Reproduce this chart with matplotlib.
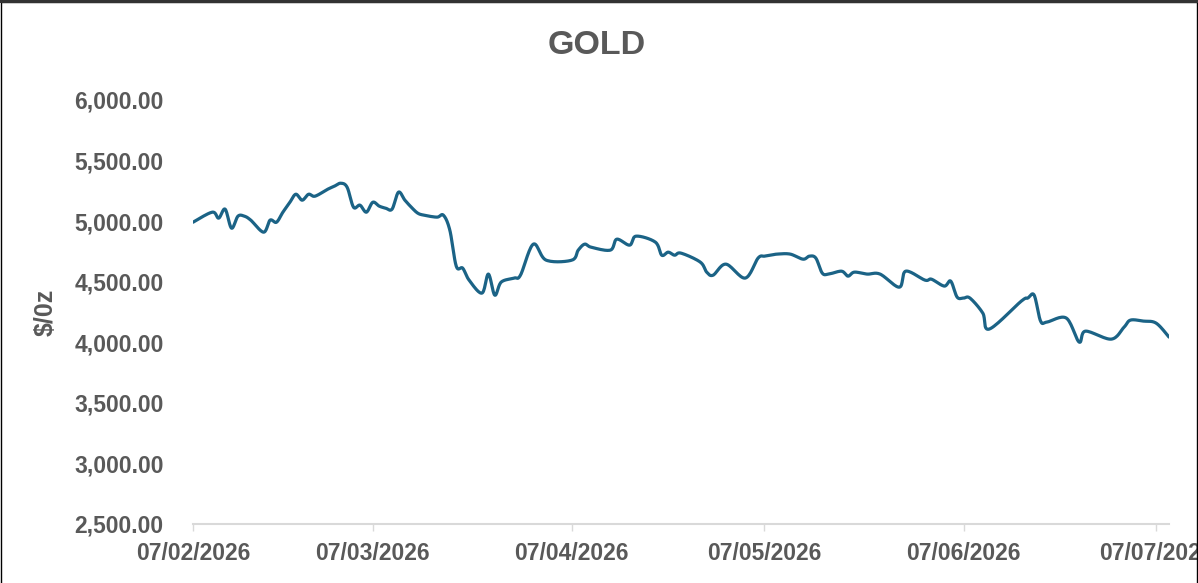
import numpy as np
import matplotlib
matplotlib.use('Agg')
import matplotlib.pyplot as plt
import matplotlib.dates as mdates
from matplotlib.patches import Rectangle

# Gold price readings, $/oz
dates = ['2026-02-07', '2026-02-10', '2026-02-11', '2026-02-12', '2026-02-13', '2026-02-14',
         '2026-02-15', '2026-02-16', '2026-02-18', '2026-02-19', '2026-02-20', '2026-02-21',
         '2026-02-22', '2026-02-23', '2026-02-24', '2026-02-25', '2026-02-26', '2026-02-28',
         '2026-03-01', '2026-03-02', '2026-03-03', '2026-03-04', '2026-03-05', '2026-03-06',
         '2026-03-07', '2026-03-08', '2026-03-09', '2026-03-10', '2026-03-11', '2026-03-12',
         '2026-03-13', '2026-03-14', '2026-03-15', '2026-03-17', '2026-03-18', '2026-03-19',
         '2026-03-20', '2026-03-21', '2026-03-22', '2026-03-24', '2026-03-25', '2026-03-26',
         '2026-03-27', '2026-03-29', '2026-03-30', '2026-04-01', '2026-04-03', '2026-04-07',
         '2026-04-08', '2026-04-09', '2026-04-10', '2026-04-13', '2026-04-14', '2026-04-16',
         '2026-04-17', '2026-04-20', '2026-04-21', '2026-04-22', '2026-04-23', '2026-04-24',
         '2026-04-27', '2026-04-28', '2026-04-29', '2026-05-01', '2026-05-04', '2026-05-06',
         '2026-05-07', '2026-05-08', '2026-05-09', '2026-05-11', '2026-05-13', '2026-05-14',
         '2026-05-15', '2026-05-16', '2026-05-17', '2026-05-19', '2026-05-20', '2026-05-21',
         '2026-05-23', '2026-05-25', '2026-05-28', '2026-05-29', '2026-06-01', '2026-06-02',
         '2026-06-04', '2026-06-05', '2026-06-06', '2026-06-07', '2026-06-08', '2026-06-10',
         '2026-06-11', '2026-06-16', '2026-06-17', '2026-06-18', '2026-06-19', '2026-06-20',
         '2026-06-23', '2026-06-25', '2026-06-26', '2026-06-30', '2026-07-02', '2026-07-03',
         '2026-07-05', '2026-07-07', '2026-07-09']
prices = [4991, 5074, 5025, 5099, 4942, 5041,
          5041, 5008, 4909, 5008, 4991, 5074,
          5148, 5222, 5173, 5222, 5206, 5264,
          5288, 5313, 5280, 5115, 5132, 5074,
          5156, 5124, 5107, 5099, 5239, 5173,
          5115, 5066, 5049, 5033, 5049, 4925,
          4628, 4612, 4513, 4406, 4563, 4389,
          4497, 4530, 4554, 4810, 4678, 4678,
          4761, 4810, 4785, 4761, 4851, 4802,
          4876, 4827, 4719, 4744, 4719, 4736,
          4662, 4579, 4554, 4645, 4530, 4695,
          4711, 4719, 4728, 4728, 4686, 4711,
          4695, 4571, 4563, 4587, 4546, 4579,
          4563, 4563, 4455, 4587, 4513, 4521,
          4464, 4505, 4373, 4365, 4365, 4241,
          4109, 4340, 4365, 4389, 4175, 4167,
          4200, 4002, 4092, 4026, 4125, 4183,
          4175, 4158, 4043]
tick_dates = ['2026-02-07', '2026-03-07', '2026-04-07', '2026-05-07', '2026-06-07', '2026-07-07']
y_ticks = [2500, 3000, 3500, 4000, 4500, 5000, 5500, 6000]

line_col = '#1b6386'
text_col = '#595959'
axis_col = '#d9d9d9'

plt.rcParams['font.family'] = ['Liberation Sans', 'DejaVu Sans']


# Catmull-Rom smoothing, like the smoothed line option of a spreadsheet chart
def smooth(x, y, n=16):
    px = np.concatenate([[x[0]], x, [x[-1]]])
    py = np.concatenate([[y[0]], y, [y[-1]]])
    t = np.linspace(0, 1, n, endpoint=False)
    xs, ys = [], []
    for i in range(1, len(px) - 2):
        for p, out in ((px, xs), (py, ys)):
            p0, p1, p2, p3 = p[i - 1], p[i], p[i + 1], p[i + 2]
            out.extend(0.5 * (2 * p1 + (-p0 + p2) * t + (2 * p0 - 5 * p1 + 4 * p2 - p3) * t ** 2
                              + (-p0 + 3 * p1 - 3 * p2 + p3) * t ** 3))
    xs.append(x[-1])
    ys.append(y[-1])
    return np.array(xs), np.array(ys)


x = mdates.date2num(np.array(dates, dtype='datetime64[D]'))
y = np.array(prices, dtype=float)
xs, ys = smooth(x, y)

fig = plt.figure(figsize=(11.98, 5.83), dpi=100)
ax = fig.add_axes([193 / 1198, 59 / 583, 976 / 1198, 424 / 583])
ax.plot(xs, ys, color=line_col, linewidth=2.3, solid_capstyle='round')

ax.set_xlim(x[0], x[-1])
ax.set_ylim(2500, 6000)
ax.set_yticks(y_ticks)
ax.set_yticklabels(['{:,.2f}'.format(v) for v in y_ticks])
ax.set_xticks(mdates.date2num(np.array(tick_dates, dtype='datetime64[D]')))
ax.xaxis.set_major_formatter(mdates.DateFormatter('%d/%m/%Y'))

for s in ['top', 'right', 'left']:
    ax.spines[s].set_visible(False)
ax.spines['bottom'].set_color(axis_col)
ax.spines['bottom'].set_linewidth(1.5)
ax.tick_params(axis='y', length=0, pad=21, labelsize=16.5, labelcolor=text_col)
ax.tick_params(axis='x', length=5, width=1, color=axis_col, pad=8, labelsize=16.5, labelcolor=text_col)
for lab in ax.get_xticklabels() + ax.get_yticklabels():
    lab.set_fontweight('bold')

fig.text(597 / 1198, 1 - 45 / 583, 'GOLD', ha='center', va='center', fontsize=24.5,
         fontweight='bold', color=text_col)
fig.text(46 / 1198, 1 - 312 / 583, '$/0z', ha='center', va='center', rotation=90,
         fontsize=18, fontweight='bold', color=text_col)

# frame around the chart area
fig.patches.append(Rectangle((0.5 / 1198, -0.05), 1196.5 / 1198, 1.05 - 1.5 / 583,
                             transform=fig.transFigure, fill=False, edgecolor='black',
                             linewidth=1.0))
fig.patches.append(Rectangle((0, 1 - 3 / 583), 1, 3 / 583, transform=fig.transFigure,
                             facecolor='#333333', edgecolor='none'))

fig.savefig('out.png', dpi=100)
